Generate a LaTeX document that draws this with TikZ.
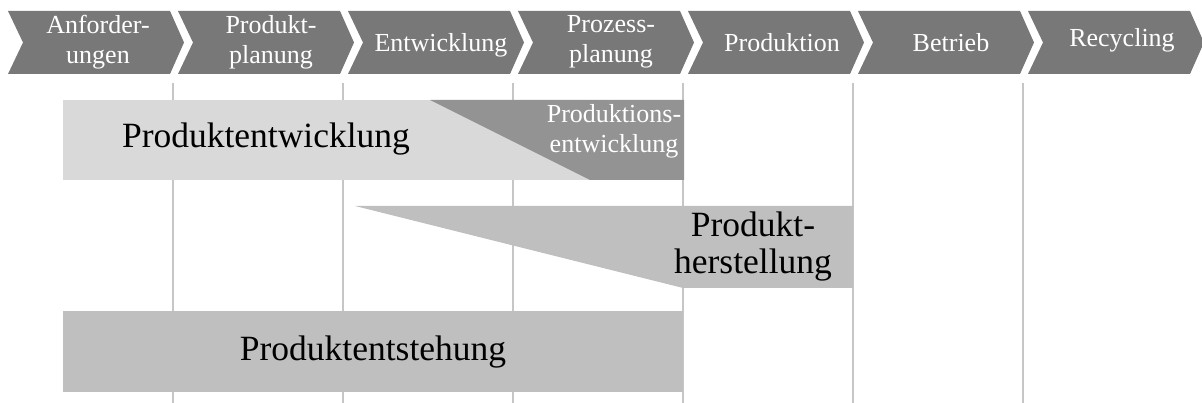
\documentclass[tikz,border=0pt]{standalone}
\usepackage{fontspec}
\setmainfont{Liberation Serif}
\definecolor{stagegray}{HTML}{787878}
\definecolor{gridgray}{HTML}{C6C6C6}
\definecolor{devlight}{HTML}{D9D9D9}
\definecolor{devdark}{HTML}{939393}
\definecolor{midgray}{HTML}{BFBFBF}
\begin{document}
\begin{tikzpicture}[x=1pt,y=-1pt,
  stage/.style={fill=stagegray},
  stagetext/.style={text=white, align=center, inner sep=0pt, font=\fontsize{26}{30}\selectfont},
  bigtext/.style={text=black, align=center, inner sep=0pt, font=\fontsize{35.5}{37}\selectfont},
  gridline/.style={draw=gridgray, line width=1.5pt}]
\useasboundingbox (0,0) rectangle (1202,403);
\begin{scope}
\clip (0,0) rectangle (1202,403);
% phase separators
\foreach \k in {0,...,5} { \draw[gridline] (173+170*\k,83) -- (173+170*\k,403); }
% chevron row
\foreach \k in {0,...,6} {
  \fill[stage] (8+170*\k,11) -- ++(162,0) -- ++(14,31.5) -- ++(-14,31.5)
    -- ++(-162,0) -- ++(15,-31.5) -- cycle;
}
\node[stagetext] (s1) at (98,42) {Anforder-\\ungen};
\node[stagetext] (s2) at (271,42) {Produkt-\\planung};
\node[stagetext, anchor=base] (s3) at (441,52) {Entwicklung};
\node[stagetext] (s4) at (611,42) {Prozess-\\planung};
\node[stagetext, anchor=base] (s5) at (782,52) {Produktion};
\node[stagetext, anchor=base] (s6) at (951,52) {Betrieb};
\node[stagetext, anchor=base] (s7) at (1122,47) {Recycling};
% development bar
\fill[devlight] (63,100) rectangle (684,180);
\fill[devdark] (430,100) -- (684,100) -- (684,180) -- (590,180) -- cycle;
\node[bigtext, anchor=base] (pe) at (266,148) {Produktentwicklung};
\node[stagetext] (pre) at (614,131) {Produktions-\\entwicklung};
% manufacturing wedge
\fill[midgray] (355,206) -- (853,206) -- (853,288) -- (683,288) -- cycle;
\node[bigtext] (ph) at (753,247) {Produkt-\\herstellung};
% product creation bar
\fill[midgray] (63,311) rectangle (683,392);
\node[bigtext, anchor=base] (pst) at (373,360) {Produktentstehung};
\end{scope}
\end{tikzpicture}
\end{document}
